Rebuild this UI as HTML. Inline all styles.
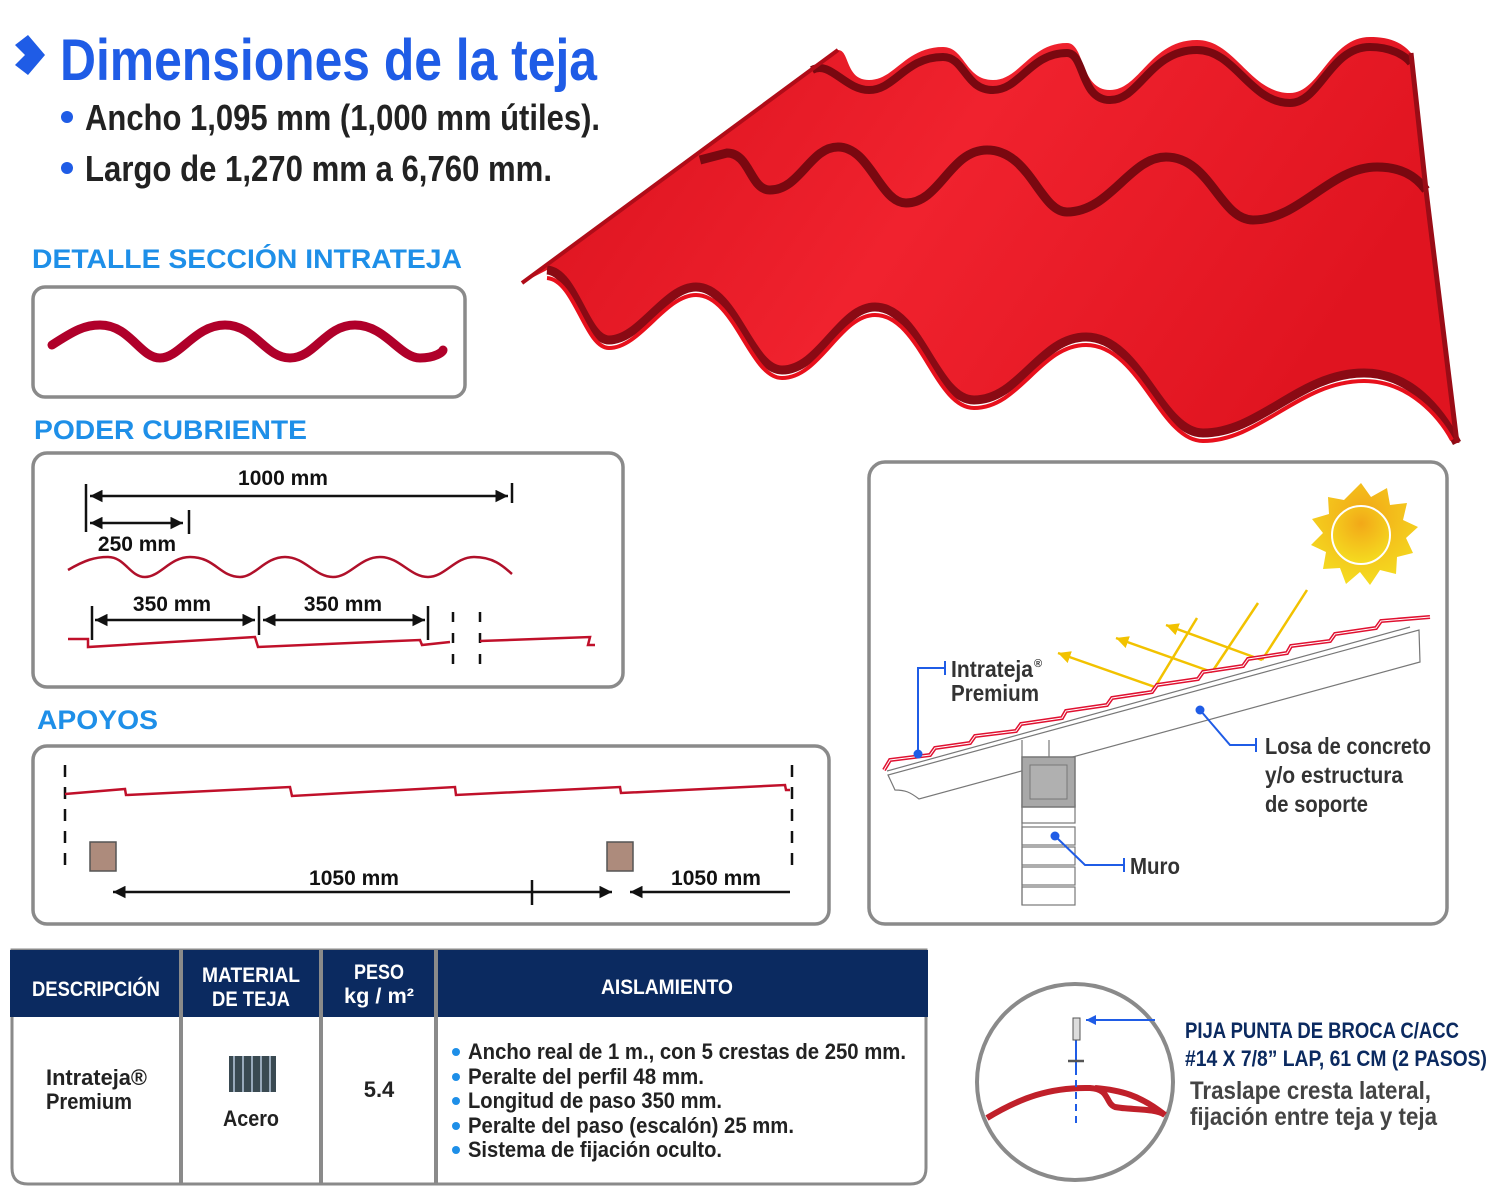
<!DOCTYPE html>
<html><head><meta charset="utf-8"><style>
html,body{margin:0;padding:0;background:#fff;}
svg{display:block;}
text{font-family:"Liberation Sans Narrow","Liberation Sans",sans-serif;font-weight:bold;}
.w{font-family:"Liberation Sans",sans-serif;}
</style></head><body>
<svg width="1500" height="1200" viewBox="0 0 1500 1200" xmlns="http://www.w3.org/2000/svg">
<defs>
<marker id="ah" viewBox="0 0 10 10" refX="10" refY="5" markerWidth="5" markerHeight="5" orient="auto-start-reverse"><path d="M0,0 L10,5 L0,10 z" fill="#111"/></marker>
<marker id="ay" viewBox="0 0 10 10" refX="10" refY="5" markerWidth="5" markerHeight="5" orient="auto"><path d="M0,0 L10,5 L0,10 z" fill="#f2c200"/></marker>
<marker id="ab" viewBox="0 0 10 10" refX="10" refY="5" markerWidth="5" markerHeight="5" orient="auto"><path d="M0,0 L10,5 L0,10 z" fill="#1f5ce6"/></marker>
<linearGradient id="rg" x1="0" y1="0" x2="1" y2="0.3"><stop offset="0" stop-color="#d8101c"/><stop offset="0.5" stop-color="#f0222e"/><stop offset="1" stop-color="#e01420"/></linearGradient>
<radialGradient id="sg" cx="0.5" cy="0.3" r="0.7"><stop offset="0" stop-color="#f2a818"/><stop offset="1" stop-color="#f5dc20"/></radialGradient>
</defs>

<!-- Title -->
<path d="M15,45 L28,35 L45,55 L28,75 L15,65 L25,55 Z" fill="#1f5ce6"/>
<text x="60" y="80" font-size="58" fill="#1f5ce6" textLength="537" lengthAdjust="spacingAndGlyphs">Dimensiones de la teja</text>
<circle cx="67" cy="117" r="6" fill="#1f5ce6"/>
<text x="85" y="130" font-size="36" fill="#222" textLength="515" lengthAdjust="spacingAndGlyphs">Ancho 1,095 mm (1,000 mm útiles).</text>
<circle cx="67" cy="168" r="6" fill="#1f5ce6"/>
<text x="85" y="181" font-size="36" fill="#222" textLength="467" lengthAdjust="spacingAndGlyphs">Largo de 1,270 mm a 6,760 mm.</text>

<!-- Red tile -->
<path d="M522,283 L838,50 C850,50 845,80 869,80 C895,80 905,47 943,47 C965,47 965,80 993,80 C1020,80 1030,43 1067,43 C1085,43 1080,90 1110,90 C1140,90 1150,40 1197,40 C1235,40 1250,93 1290,93 C1320,93 1330,37 1370,37 C1385,37 1400,40 1411,53 L1426,190 L1457,443 C1440,410 1410,373 1364,373 C1300,373 1260,433 1203,433 C1160,433 1140,337 1086,337 C1040,337 1020,400 974,400 C935,400 920,307 875,307 C840,307 820,370 782,370 C750,370 735,287 696,287 C665,287 640,340 609,340 C585,340 575,272 547,270 Z" fill="url(#rg)"/>
<path d="M547,270 C575,272 585,340 609,340 C640,340 665,287 696,287 C735,287 750,370 782,370 C820,370 840,307 875,307 C920,307 935,400 974,400 C1020,400 1040,337 1086,337 C1140,337 1160,433 1203,433 C1260,433 1300,373 1364,373 C1410,373 1440,410 1457,443" fill="none" stroke="#8a0a14" stroke-width="9"/>
<path d="M547,278 C575,280 585,348 609,348 C640,348 665,295 696,295 C735,295 750,378 782,378 C820,378 840,315 875,315 C920,315 935,408 974,408 C1020,408 1040,345 1086,345 C1140,345 1160,441 1203,441 C1260,441 1300,381 1364,381 C1410,381 1440,418 1452,440" fill="none" stroke="#e8101c" stroke-width="4"/>
<path d="M700,160 L727,153 C750,153 750,190 770,190 C800,190 810,147 838,147 C870,147 880,203 906,203 C940,203 950,150 987,150 C1030,150 1040,212 1067,212 C1110,212 1130,157 1166,157 C1210,157 1220,220 1253,220 C1300,220 1330,167 1377,167 C1400,167 1415,175 1426,190" fill="none" stroke="#7a0810" stroke-width="9"/>
<path d="M812,70 C830,60 845,90 869,90 C895,90 905,57 943,57 C965,57 965,90 993,90 C1020,90 1030,53 1067,53 C1085,53 1080,100 1110,100 C1140,100 1150,50 1197,50 C1235,50 1250,103 1290,103 C1320,103 1330,47 1370,47 C1390,47 1405,55 1411,63" fill="none" stroke="#7a0810" stroke-width="8"/>
<path d="M1411,53 L1426,190 L1457,443" fill="none" stroke="#9a0c16" stroke-width="5"/>
<path d="M522,283 L838,50" fill="none" stroke="#b00c18" stroke-width="4"/>

<!-- DETALLE -->
<text class="w" x="32" y="268" font-size="27" fill="#1e8fe8" textLength="430" lengthAdjust="spacingAndGlyphs">DETALLE SECCIÓN INTRATEJA</text>
<rect x="33" y="287" width="432" height="110" rx="12" fill="#fff" stroke="#8a8a8a" stroke-width="3.5"/>
<path d="M52,345 C75,330 85,325 100,325 C130,325 140,358 160,358 C180,358 195,325 225,325 C255,325 265,358 290,358 C315,358 325,325 355,325 C385,325 400,358 420,358 C435,358 443,352 443,350" fill="none" stroke="#b0002a" stroke-width="9" stroke-linecap="round"/>

<!-- PODER CUBRIENTE -->
<text class="w" x="34" y="439" font-size="27" fill="#1e8fe8" textLength="273" lengthAdjust="spacingAndGlyphs">PODER CUBRIENTE</text>
<rect x="33" y="453" width="590" height="234" rx="14" fill="#fff" stroke="#8a8a8a" stroke-width="3.5"/>
<g stroke="#111" stroke-width="2.5" fill="none">
<line x1="86" y1="484" x2="86" y2="532"/><line x1="512" y1="483" x2="512" y2="503"/>
<line x1="90" y1="496" x2="508" y2="496" marker-start="url(#ah)" marker-end="url(#ah)"/>
<line x1="189" y1="510" x2="189" y2="534"/>
<line x1="90" y1="523" x2="183" y2="523" marker-start="url(#ah)" marker-end="url(#ah)"/>
<line x1="92" y1="606" x2="92" y2="640"/><line x1="259" y1="606" x2="259" y2="635"/><line x1="428" y1="606" x2="428" y2="640"/>
<line x1="95" y1="620" x2="255" y2="620" marker-start="url(#ah)" marker-end="url(#ah)"/>
<line x1="263" y1="620" x2="425" y2="620" marker-start="url(#ah)" marker-end="url(#ah)"/>
<line x1="453" y1="612" x2="453" y2="668" stroke-dasharray="10,11"/>
<line x1="480" y1="612" x2="480" y2="668" stroke-dasharray="10,11"/>
</g>
<text x="283" y="485" font-size="21" fill="#111" text-anchor="middle">1000 mm</text>
<text x="137" y="551" font-size="21" fill="#111" text-anchor="middle">250 mm</text>
<text x="172" y="611" font-size="21" fill="#111" text-anchor="middle">350 mm</text>
<text x="343" y="611" font-size="21" fill="#111" text-anchor="middle">350 mm</text>
<path d="M68,570 C85,560 95,557 108,557 C125,557 130,577 145,577 C160,577 170,557 190,557 C215,557 220,577 240,577 C255,577 265,557 285,557 C305,557 315,577 333,577 C350,577 360,557 380,557 C400,557 410,577 428,577 C445,577 455,557 474,557 C495,557 505,568 512,574" fill="none" stroke="#b0102a" stroke-width="2.5"/>
<path d="M68,639 L88,639 L88,647 L255,637 L258,647 L420,640 L422,645 L450,642 M480,641 L590,637 L588,645 L595,645" fill="none" stroke="#c0102a" stroke-width="2.5"/>

<!-- APOYOS -->
<text class="w" x="37" y="729" font-size="27" fill="#1e8fe8" textLength="121" lengthAdjust="spacingAndGlyphs">APOYOS</text>
<rect x="33" y="746" width="796" height="178" rx="14" fill="#fff" stroke="#8a8a8a" stroke-width="3.5"/>
<g stroke="#111" stroke-width="2.5" fill="none">
<line x1="65" y1="765" x2="65" y2="872" stroke-dasharray="12,10"/>
<line x1="792" y1="765" x2="792" y2="872" stroke-dasharray="12,10"/>
<line x1="113" y1="892" x2="612" y2="892" marker-start="url(#ah)" marker-end="url(#ah)"/>
<line x1="532" y1="880" x2="532" y2="905"/>
<line x1="790" y1="892" x2="630" y2="892" marker-end="url(#ah)"/>
</g>
<path d="M65,794 L125,789 L126,795 L290,787 L292,796 L455,787 L456,795 L620,787 L621,793 L785,785 L786,790 L790,790" fill="none" stroke="#c0102a" stroke-width="2.5"/>
<rect x="90" y="842" width="26" height="29" fill="#ad8b7c" stroke="#555" stroke-width="1.5"/>
<rect x="607" y="842" width="26" height="29" fill="#ad8b7c" stroke="#555" stroke-width="1.5"/>
<text x="354" y="885" font-size="21" fill="#111" text-anchor="middle">1050 mm</text>
<text x="716" y="885" font-size="21" fill="#111" text-anchor="middle">1050 mm</text>

<!-- Right panel -->
<rect x="869" y="462" width="578" height="462" rx="16" fill="#fff" stroke="#8a8a8a" stroke-width="3.5"/>
<polygon points="1361,483 1371,497 1387,488 1390,505 1407,503 1403,520 1418,527 1406,538 1413,553 1397,557 1396,574 1380,570 1370,585 1360,572 1346,584 1340,568 1323,569 1326,552 1311,545 1323,533 1312,519 1329,514 1328,497 1344,500" fill="url(#sg)"/>
<circle cx="1361" cy="535" r="29" fill="url(#sg)" stroke="#fff" stroke-width="2"/>
<g stroke="#f2c200" stroke-width="2.5" fill="none">
<line x1="1307" y1="590" x2="1262" y2="660"/>
<line x1="1258" y1="603" x2="1212" y2="672"/>
<line x1="1197" y1="618" x2="1155" y2="687"/>
<line x1="1262" y1="660" x2="1166" y2="625" marker-end="url(#ay)"/>
<line x1="1212" y1="672" x2="1116" y2="638" marker-end="url(#ay)"/>
<line x1="1155" y1="687" x2="1058" y2="653" marker-end="url(#ay)"/>
</g>
<g stroke="#777" stroke-width="1.2" fill="#fff">
<path d="M888,775 L1419,630 L1420,662 L919,799 C910,792 905,790 895,790 Z"/>
<line x1="887" y1="771" x2="1410" y2="627"/>
<rect x="1022" y="805" width="53" height="18"/>
<rect x="1022" y="827" width="53" height="18"/>
<rect x="1022" y="847" width="53" height="18"/>
<rect x="1022" y="867" width="53" height="18"/>
<rect x="1022" y="887" width="53" height="18"/>
<line x1="1022" y1="740" x2="1022" y2="905"/>
<line x1="1049" y1="740" x2="1049" y2="757"/>
</g>
<rect x="1022" y="757" width="53" height="50" fill="#a8a8a8" stroke="#777" stroke-width="1.5"/>
<rect x="1030" y="765" width="37" height="34" fill="#b0b0b0" stroke="#777" stroke-width="1"/>
<path d="M884,770 L890,760 L930,755 L935,748 L970,743 L975,736 L1016,731 L1021,724 L1062,718 L1066,711 L1107,705 L1112,698 L1152,692 L1157,685 L1198,679 L1203,672 L1243,666 L1248,659 L1287,653 L1291,646 L1330,641 L1335,634 L1376,628 L1381,621 L1430,617" fill="none" stroke="#e01030" stroke-width="4"/>
<path d="M884,770 L890,760 L930,755 L935,748 L970,743 L975,736 L1016,731 L1021,724 L1062,718 L1066,711 L1107,705 L1112,698 L1152,692 L1157,685 L1198,679 L1203,672 L1243,666 L1248,659 L1287,653 L1291,646 L1330,641 L1335,634 L1376,628 L1381,621 L1430,617" fill="none" stroke="#fff" stroke-width="1"/>
<g stroke="#1f5ce6" stroke-width="2" fill="none">
<path d="M945,668 L918,668 L918,753"/><line x1="945" y1="661" x2="945" y2="675"/>
<path d="M1200,710 L1230,745 L1255,745"/><line x1="1256" y1="738" x2="1256" y2="752"/>
<path d="M1055,836 L1085,865 L1123,865"/><line x1="1124" y1="858" x2="1124" y2="872"/>
</g>
<circle cx="918" cy="754" r="4.5" fill="#1f5ce6"/>
<circle cx="1200" cy="710" r="4.5" fill="#1f5ce6"/>
<circle cx="1055" cy="836" r="4.5" fill="#1f5ce6"/>
<text x="951" y="677" font-size="23" fill="#333" textLength="82" lengthAdjust="spacingAndGlyphs">Intrateja</text><text x="1034" y="667" font-size="11" fill="#333">®</text>
<text x="951" y="701" font-size="23" fill="#333" textLength="88" lengthAdjust="spacingAndGlyphs">Premium</text>
<text x="1265" y="754" font-size="23" fill="#333" textLength="166" lengthAdjust="spacingAndGlyphs">Losa de concreto</text>
<text x="1265" y="783" font-size="23" fill="#333" textLength="138" lengthAdjust="spacingAndGlyphs">y/o estructura</text>
<text x="1265" y="812" font-size="23" fill="#333" textLength="103" lengthAdjust="spacingAndGlyphs">de soporte</text>
<text x="1130" y="874" font-size="23" fill="#333" textLength="50" lengthAdjust="spacingAndGlyphs">Muro</text>

<!-- Table -->
<path d="M12,950 L926,950 L926,1168 Q926,1184 910,1184 L28,1184 Q12,1184 12,1168 Z" fill="#fff" stroke="#8a8a8a" stroke-width="3"/>
<rect x="10" y="950" width="918" height="67" fill="#0b2a60"/>
<g stroke="#8a8a8a" stroke-width="4"><line x1="181" y1="950" x2="181" y2="1184"/><line x1="321" y1="950" x2="321" y2="1184"/><line x1="436" y1="950" x2="436" y2="1184"/></g>
<g fill="#fff" font-size="21" text-anchor="middle">
<text x="96" y="996" textLength="128" lengthAdjust="spacingAndGlyphs">DESCRIPCIÓN</text>
<text x="251" y="982" textLength="98" lengthAdjust="spacingAndGlyphs">MATERIAL</text>
<text x="251" y="1006" textLength="78" lengthAdjust="spacingAndGlyphs">DE TEJA</text>
<text x="379" y="979" textLength="50" lengthAdjust="spacingAndGlyphs">PESO</text>
<text x="379" y="1003" textLength="70" lengthAdjust="spacingAndGlyphs">kg / m²</text>
<text x="667" y="994" textLength="132" lengthAdjust="spacingAndGlyphs">AISLAMIENTO</text>
</g>
<g fill="#222" font-size="22">
<text x="46" y="1085" textLength="101" lengthAdjust="spacingAndGlyphs">Intrateja®</text>
<text x="46" y="1109" textLength="86" lengthAdjust="spacingAndGlyphs">Premium</text>
<text x="251" y="1126" text-anchor="middle" textLength="56" lengthAdjust="spacingAndGlyphs">Acero</text>
<text x="379" y="1097" text-anchor="middle">5.4</text>
<text x="468" y="1059" textLength="438" lengthAdjust="spacingAndGlyphs">Ancho real de 1 m., con 5 crestas de 250 mm.</text>
<text x="468" y="1084" textLength="236" lengthAdjust="spacingAndGlyphs">Peralte del perfil 48 mm.</text>
<text x="468" y="1108" textLength="254" lengthAdjust="spacingAndGlyphs">Longitud de paso 350 mm.</text>
<text x="468" y="1133" textLength="326" lengthAdjust="spacingAndGlyphs">Peralte del paso (escalón) 25 mm.</text>
<text x="468" y="1157" textLength="254" lengthAdjust="spacingAndGlyphs">Sistema de fijación oculto.</text>
</g>
<g fill="#1e8fe8"><circle cx="456" cy="1052" r="4"/><circle cx="456" cy="1077" r="4"/><circle cx="456" cy="1101" r="4"/><circle cx="456" cy="1126" r="4"/><circle cx="456" cy="1150" r="4"/></g>
<g><rect x="229" y="1056" width="47" height="36" fill="#3a4a52"/>
<g stroke="#9ab" stroke-width="2"><line x1="234" y1="1056" x2="234" y2="1092"/><line x1="243" y1="1056" x2="243" y2="1092"/><line x1="252" y1="1056" x2="252" y2="1092"/><line x1="261" y1="1056" x2="261" y2="1092"/><line x1="270" y1="1056" x2="270" y2="1092"/></g></g>

<!-- Circle detail -->
<circle cx="1075" cy="1082" r="98" fill="#fff" stroke="#8a8a8a" stroke-width="4"/>
<path d="M987,1118 C1020,1098 1050,1087 1090,1088 C1110,1089 1105,1103 1115,1107 C1130,1110 1155,1108 1165,1115 C1140,1095 1120,1090 1095,1088" fill="none" stroke="#c0202a" stroke-width="6"/>
<line x1="1076" y1="1040" x2="1076" y2="1068" stroke="#1f5ce6" stroke-width="2"/>
<line x1="1076" y1="1068" x2="1076" y2="1128" stroke="#1f5ce6" stroke-width="2" stroke-dasharray="7,5"/>
<rect x="1073" y="1018" width="7" height="22" fill="#ddd" stroke="#555" stroke-width="1"/>
<line x1="1068" y1="1061" x2="1084" y2="1061" stroke="#555" stroke-width="2.5"/>
<line x1="1155" y1="1020" x2="1086" y2="1020" stroke="#1f5ce6" stroke-width="2" marker-end="url(#ab)"/>
<text x="1185" y="1038" font-size="22" fill="#0b2a60" textLength="274" lengthAdjust="spacingAndGlyphs">PIJA PUNTA DE BROCA C/ACC</text>
<text x="1185" y="1066" font-size="22" fill="#0b2a60" textLength="302" lengthAdjust="spacingAndGlyphs">#14 X 7/8” LAP, 61 CM (2 PASOS)</text>
<text x="1190" y="1099" font-size="25" fill="#444" textLength="241" lengthAdjust="spacingAndGlyphs">Traslape cresta lateral,</text>
<text x="1190" y="1125" font-size="25" fill="#444" textLength="247" lengthAdjust="spacingAndGlyphs">fijación entre teja y teja</text>
</svg>
</body></html>
